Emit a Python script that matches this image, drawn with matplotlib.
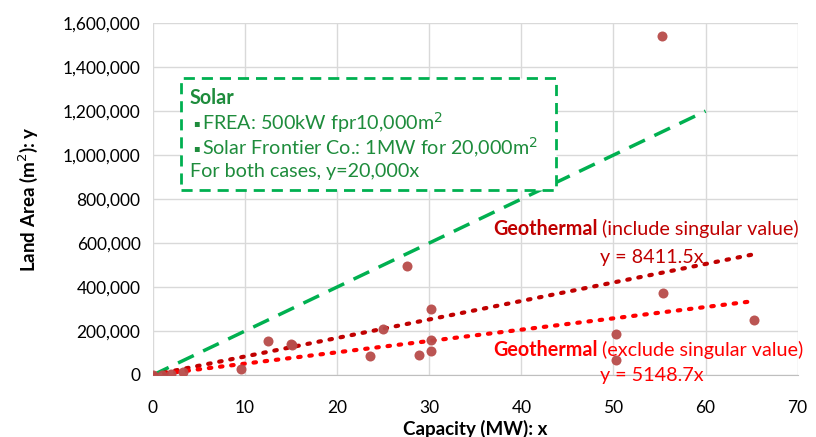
import matplotlib
matplotlib.use("Agg")
import matplotlib.pyplot as plt
import numpy as np
from matplotlib.ticker import FuncFormatter
from matplotlib.patches import Rectangle

plt.rcParams['font.family'] = ['Lato', 'DejaVu Sans']

# capacity (MW) and land area (m2) of geothermal plants
capacity = [0, 1, 2, 3.3, 9.6, 12.5, 15, 15.1, 23.6, 25, 27.6, 28.9, 30.2, 30.2, 30.2,
            50.3, 50.3, 55.3, 55.4, 65.3]
land_area = [0, 0, 5000, 15000, 27000, 155000, 141000, 137000, 86000, 209000, 495000,
             91000, 300000, 159000, 109000, 186000, 68000, 1541000, 373000, 250000]

solar_slope = 20000
geo_incl_slope = 8411.5
geo_excl_slope = 5148.7
solar_xmax = 60
geo_xmax = 65

fig = plt.figure(figsize=(8.16, 4.37), dpi=100)
fig.patch.set_facecolor("white")
ax = fig.add_axes([0.1875, 0.142, 0.79, 0.805])

grid_c = "#D9D9D9"
ax.set_xlim(0, 70)
ax.set_ylim(0, 1600000)
ax.set_xticks(np.arange(0, 71, 10))
ax.set_yticks(np.arange(0, 1600001, 200000))
ax.grid(True, color=grid_c, linewidth=1)
ax.set_axisbelow(True)
for s in ["top", "right", "left"]:
    ax.spines[s].set_visible(False)
ax.spines["bottom"].set_color("#BFBFBF")
ax.tick_params(length=0, labelsize=12.5, colors="#000000")
ax.tick_params(axis="x", pad=18)
ax.tick_params(axis="y", pad=9)
ax.yaxis.set_major_formatter(FuncFormatter(lambda v, p: f"{int(v):,}"))

xs = np.array([0, solar_xmax])
ax.plot(xs, solar_slope * xs, color="#00B050", linestyle=(0, (5, 3)), linewidth=2.5, zorder=3)
xg = np.array([0, geo_xmax])
ax.plot(xg, geo_incl_slope * xg, color="#C00000", linestyle=(0, (0.6, 2.1)),
        linewidth=3, dash_capstyle="round", zorder=3)
ax.plot(xg, geo_excl_slope * xg, color="#FF0000", linestyle=(0, (0.6, 2.1)),
        linewidth=3, dash_capstyle="round", zorder=3)

ax.scatter(capacity, land_area, s=52, color="#B84C4A", alpha=0.95, zorder=4, linewidths=0)

ax.set_xlabel("Capacity (MW): x", fontsize=13.5, fontweight="bold", labelpad=3)
ax.set_ylabel("Land Area (m$^2$): y", fontsize=13.5, fontweight="bold", labelpad=16)

# solar annotation box
box = Rectangle((181 / 816, 1 - 190 / 437), (556 - 181) / 816, (190 - 78) / 437,
                transform=fig.transFigure, facecolor="white", edgecolor="#00B050",
                linewidth=2, linestyle=(0, (4, 2.5)), zorder=1)
fig.patches.append(box)
tc = "#1E8C3C"
fs = 14.2
renderer = fig.canvas.get_renderer()


def bullet_line(y, txt):
    # small square bullet drawn as a marker, then the text
    fig.text(196 / 816, y, "\u25aa", fontsize=7, color=tc, va="center", ha="center",
             family=["DejaVu Sans"], zorder=3)
    fig.text(202 / 816, y, txt, fontsize=fs, color=tc, va="center", zorder=3)


fig.text(190 / 816, 1 - 98 / 437, "Solar", fontsize=fs, fontweight="bold", color=tc, va="center", zorder=3)
bullet_line(1 - 123 / 437, "FREA: 500kW fpr10,000m$^2$")
bullet_line(1 - 148 / 437, "Solar Frontier Co.: 1MW for 20,000m$^2$")
fig.text(190 / 816, 1 - 172 / 437, "For both cases, y=20,000x", fontsize=fs, color=tc, va="center", zorder=3)


def two_part(x, y, bold, rest, color):
    t = fig.text(x, y, bold, fontsize=fs, fontweight="bold", color=color, va="center")
    bb = t.get_window_extent(renderer=renderer)
    x2 = fig.transFigure.inverted().transform((bb.x1 + 5, 0))[0]
    fig.text(x2, y, rest, fontsize=fs, color=color, va="center")


# geothermal labels
two_part(493 / 816, 1 - 229 / 437, "Geothermal", "(include singular value)", "#C00000")
fig.text(600 / 816, 1 - 258 / 437, "y = 8411.5x", fontsize=fs, color="#C00000", va="center")
two_part(493 / 816, 1 - 350 / 437, "Geothermal", "(exclude singular value)", "#FF0000")
fig.text(600 / 816, 1 - 376 / 437, "y = 5148.7x", fontsize=fs, color="#FF0000", va="center")

fig.savefig("out.png", dpi=100, facecolor="white")
